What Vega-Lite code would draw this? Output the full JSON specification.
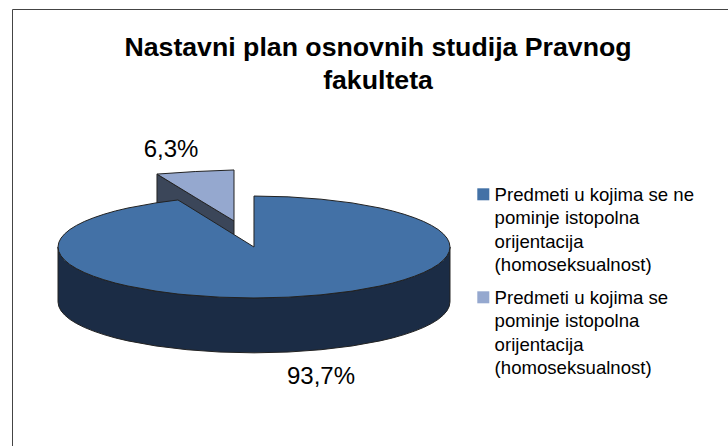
{
"$schema":"https://vega.github.io/schema/vega-lite/v6.json",
"width":716,"height":437,
"autosize":{"type":"none"},
"padding":{"left":12,"top":9,"right":0,"bottom":0},
"background":"white",
"view":{"stroke":null},
"config":{"font":"Liberation Sans"},
"title":{"text":["Nastavni plan osnovnih studija Pravnog","fakulteta"],"font":"Liberation Sans","fontSize":26.7,"fontWeight":"bold","color":"#000","anchor":"middle","dx":8,"offset":-107,"lineHeight":33.5,"baseline":"alphabetic"},
"datasets":{
"top":[
{"x":-100,"y":0,"y2":0,"slice":"Predmeti u kojima se ne pominje istopolna orijentacija (homoseksualnost)"},
{"x":-99.6,"y":2.3,"y2":-2.3,"slice":"Predmeti u kojima se ne pominje istopolna orijentacija (homoseksualnost)"},
{"x":-98.5,"y":4.5,"y2":-4.5,"slice":"Predmeti u kojima se ne pominje istopolna orijentacija (homoseksualnost)"},
{"x":-96.6,"y":6.7,"y2":-6.7,"slice":"Predmeti u kojima se ne pominje istopolna orijentacija (homoseksualnost)"},
{"x":-94,"y":8.9,"y2":-8.9,"slice":"Predmeti u kojima se ne pominje istopolna orijentacija (homoseksualnost)"},
{"x":-90.6,"y":11,"y2":-11,"slice":"Predmeti u kojima se ne pominje istopolna orijentacija (homoseksualnost)"},
{"x":-86.6,"y":13,"y2":-13,"slice":"Predmeti u kojima se ne pominje istopolna orijentacija (homoseksualnost)"},
{"x":-81.9,"y":14.9,"y2":-14.9,"slice":"Predmeti u kojima se ne pominje istopolna orijentacija (homoseksualnost)"},
{"x":-76.6,"y":16.7,"y2":-16.7,"slice":"Predmeti u kojima se ne pominje istopolna orijentacija (homoseksualnost)"},
{"x":-70.7,"y":18.4,"y2":-18.4,"slice":"Predmeti u kojima se ne pominje istopolna orijentacija (homoseksualnost)"},
{"x":-64.3,"y":19.9,"y2":-19.9,"slice":"Predmeti u kojima se ne pominje istopolna orijentacija (homoseksualnost)"},
{"x":-50,"y":22.5,"y2":-22.5,"slice":"Predmeti u kojima se ne pominje istopolna orijentacija (homoseksualnost)"},
{"x":-38.8,"y":24,"y2":-24,"slice":"Predmeti u kojima se ne pominje istopolna orijentacija (homoseksualnost)"},
{"x":-34.2,"y":21.2,"y2":-24.4,"slice":"Predmeti u kojima se ne pominje istopolna orijentacija (homoseksualnost)"},
{"x":-17.4,"y":10.8,"y2":-25.6,"slice":"Predmeti u kojima se ne pominje istopolna orijentacija (homoseksualnost)"},
{"x":-0.01,"y":0,"y2":-26,"slice":"Predmeti u kojima se ne pominje istopolna orijentacija (homoseksualnost)"},
{"x":0,"y":26,"y2":-26,"slice":"Predmeti u kojima se ne pominje istopolna orijentacija (homoseksualnost)"},
{"x":17.4,"y":25.6,"y2":-25.6,"slice":"Predmeti u kojima se ne pominje istopolna orijentacija (homoseksualnost)"},
{"x":34.2,"y":24.4,"y2":-24.4,"slice":"Predmeti u kojima se ne pominje istopolna orijentacija (homoseksualnost)"},
{"x":50,"y":22.5,"y2":-22.5,"slice":"Predmeti u kojima se ne pominje istopolna orijentacija (homoseksualnost)"},
{"x":64.3,"y":19.9,"y2":-19.9,"slice":"Predmeti u kojima se ne pominje istopolna orijentacija (homoseksualnost)"},
{"x":70.7,"y":18.4,"y2":-18.4,"slice":"Predmeti u kojima se ne pominje istopolna orijentacija (homoseksualnost)"},
{"x":76.6,"y":16.7,"y2":-16.7,"slice":"Predmeti u kojima se ne pominje istopolna orijentacija (homoseksualnost)"},
{"x":81.9,"y":14.9,"y2":-14.9,"slice":"Predmeti u kojima se ne pominje istopolna orijentacija (homoseksualnost)"},
{"x":86.6,"y":13,"y2":-13,"slice":"Predmeti u kojima se ne pominje istopolna orijentacija (homoseksualnost)"},
{"x":90.6,"y":11,"y2":-11,"slice":"Predmeti u kojima se ne pominje istopolna orijentacija (homoseksualnost)"},
{"x":94,"y":8.9,"y2":-8.9,"slice":"Predmeti u kojima se ne pominje istopolna orijentacija (homoseksualnost)"},
{"x":96.6,"y":6.7,"y2":-6.7,"slice":"Predmeti u kojima se ne pominje istopolna orijentacija (homoseksualnost)"},
{"x":98.5,"y":4.5,"y2":-4.5,"slice":"Predmeti u kojima se ne pominje istopolna orijentacija (homoseksualnost)"},
{"x":99.6,"y":2.3,"y2":-2.3,"slice":"Predmeti u kojima se ne pominje istopolna orijentacija (homoseksualnost)"},
{"x":100,"y":0,"y2":0,"slice":"Predmeti u kojima se ne pominje istopolna orijentacija (homoseksualnost)"}
],
"side":[
{"x":-100,"y":0,"y2":-28},{"x":-99.6,"y":-2.3,"y2":-30.3},{"x":-98.5,"y":-4.5,"y2":-32.5},{"x":-96.6,"y":-6.7,"y2":-34.7},{"x":-94,"y":-8.9,"y2":-36.9},{"x":-90.6,"y":-11,"y2":-39},{"x":-86.6,"y":-13,"y2":-41},{"x":-81.9,"y":-14.9,"y2":-42.9},{"x":-76.6,"y":-16.7,"y2":-44.7},{"x":-70.7,"y":-18.4,"y2":-46.4},{"x":-64.3,"y":-19.9,"y2":-47.9},{"x":-50,"y":-22.5,"y2":-50.5},{"x":-34.2,"y":-24.4,"y2":-52.4},{"x":-17.4,"y":-25.6,"y2":-53.6},{"x":0,"y":-26,"y2":-54},{"x":17.4,"y":-25.6,"y2":-53.6},{"x":34.2,"y":-24.4,"y2":-52.4},{"x":50,"y":-22.5,"y2":-50.5},{"x":64.3,"y":-19.9,"y2":-47.9},{"x":70.7,"y":-18.4,"y2":-46.4},{"x":76.6,"y":-16.7,"y2":-44.7},{"x":81.9,"y":-14.9,"y2":-42.9},{"x":86.6,"y":-13,"y2":-41},{"x":90.6,"y":-11,"y2":-39},{"x":94,"y":-8.9,"y2":-36.9},{"x":96.6,"y":-6.7,"y2":-34.7},{"x":98.5,"y":-4.5,"y2":-32.5},{"x":99.6,"y":-2.3,"y2":-30.3},{"x":100,"y":0,"y2":-28}
],
"smallSide":[{"x":-49.5,"y":37.2,"y2":21.4},{"x":-10.2,"y":13.3,"y2":6.4}],
"small":[
{"x":-49.5,"y":37.2,"y2":37.2,"slice":"Predmeti u kojima se pominje istopolna orijentacija (homoseksualnost)"},
{"x":-30,"y":38.5,"y2":25.3,"slice":"Predmeti u kojima se pominje istopolna orijentacija (homoseksualnost)"},
{"x":-10.2,"y":39.3,"y2":13.3,"slice":"Predmeti u kojima se pominje istopolna orijentacija (homoseksualnost)"}
],
"labels":[{"x":-42.3,"y":49.5,"label":"6,3%"},{"x":34.2,"y":-66.3,"label":"93,7%"}]
},
"encoding":{
"x":{"field":"x","type":"quantitative","scale":{"domain":[-123.47,241.84],"nice":false,"zero":false},"axis":{"orient":"top","title":null,"labels":false,"ticks":false,"grid":false,"domain":true,"domainColor":"#444","domainWidth":1}},
"y":{"field":"y","type":"quantitative","scale":{"domain":[-101.53,121.43],"nice":false,"zero":false},"axis":{"orient":"left","title":null,"labels":false,"ticks":false,"grid":false,"domain":true,"domainColor":"#444","domainWidth":1}}
},
"layer":[
{"data":{"name":"smallSide"},"mark":{"type":"area","fill":"#3B4659","stroke":"#222","strokeWidth":1},"encoding":{"y2":{"field":"y2"}}},
{"data":{"name":"small"},"mark":{"type":"area","stroke":"#222","strokeWidth":1},"encoding":{"y2":{"field":"y2"},"color":{"field":"slice","type":"nominal"}}},
{"data":{"name":"side"},"mark":{"type":"area","fill":"#1B2C45","stroke":"#222","strokeWidth":1},"encoding":{"y2":{"field":"y2"}}},
{"data":{"name":"top"},"mark":{"type":"area","stroke":"#222","strokeWidth":1},"encoding":{"y2":{"field":"y2"},"color":{"field":"slice","type":"nominal","scale":{"domain":["Predmeti u kojima se ne pominje istopolna orijentacija (homoseksualnost)","Predmeti u kojima se pominje istopolna orijentacija (homoseksualnost)"],"range":["#4371A6","#95A8CF"]},"legend":{"orient":"none","legendX":462,"legendY":176,"title":null,"symbolType":"square","symbolSize":144,"symbolStrokeWidth":0,"labelFont":"Liberation Sans","labelFontSize":18.6,"labelColor":"#000","labelLimit":0,"labelOffset":2,"labelBaseline":"top","rowPadding":13,"labelExpr":"indexof(datum.label,'se ne')>0?['Predmeti u kojima se ne','pominje istopolna','orijentacija','(homoseksualnost)']:['Predmeti u kojima se','pominje istopolna','orijentacija','(homoseksualnost)']","encoding":{"labels":{"lineHeight":{"value":23.2},"dy":{"value":-8}}}}}}},
{"data":{"name":"labels"},"mark":{"type":"text","font":"Liberation Sans","fontSize":24,"color":"#000","baseline":"middle","align":"center"},"encoding":{"text":{"field":"label"}}}
]
}
